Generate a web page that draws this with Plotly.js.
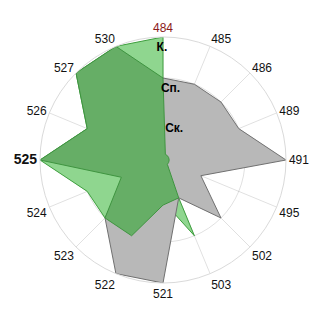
<!DOCTYPE html>
<html>
<head>
<meta charset="utf-8">
<script src="https://cdn.plot.ly/plotly-3.0.1.min.js"></script>
<style>html,body{margin:0;padding:0;background:#fff;}#chart{width:320px;height:320px;}</style>
</head>
<body>
<div id="chart"></div>
<script>
const categories = ['484','485','486','489','491','495','502','503','521','522','523','524','525','526','527','530'];
const angularLabels = ['<span style="color:#8B1A1A">484</span>','485','486','489','491','495','502','503','521','522','523','524','<span style="font-size:14px"><b>525</b></span>','526','527','530'];
const radialVals = [1, 2, 3];
const radialLabels = ['<br><b>Ск.</b>', '<br><b>Сп.</b>', '<br><b>К.</b>'];

const lightSeries  = [3, 0, 0, 0, 0, 0, 0, 2, 1, 2, 2, 2, 3, 2, 3, 3];
const greySeries   = [2, 2, 2, 2, 3, 1, 2, 1, 3, 3, 2, 1, 1, 1, 1, 1];
const mediumSeries = [2, 0.15, 0.15, 0.15, 0.15, 0.15, 0.15, 1, 1.1, 2, 2, 1.1, 3, 2, 3, 3];

function closed(a){ return a.concat([a[0]]); }
const theta = closed(categories);

const traces = [
  {type:'scatterpolar', r: closed(lightSeries), theta: theta, mode:'lines', fill:'toself',
   fillcolor:'#8FD68F', line:{color:'#3E9E3E', width:1}, hoverinfo:'none'},
  {type:'scatterpolar', r: closed(greySeries), theta: theta, mode:'lines', fill:'toself',
   fillcolor:'#B8B8B8', line:{color:'#707070', width:1}, hoverinfo:'none'},
  {type:'scatterpolar', r: closed(mediumSeries), theta: theta, mode:'lines', fill:'toself',
   fillcolor:'#66AE66', line:{color:'#3F9440', width:1}, hoverinfo:'none'}
];

const layout = {
  width: 320, height: 320,
  margin: {l: 40, r: 34, t: 37, b: 37},
  paper_bgcolor: '#fff',
  showlegend: false,
  font: {family: '"Liberation Sans", Arial, sans-serif', size: 12, color: '#111'},
  polar: {
    bgcolor: 'rgba(0,0,0,0)',
    angularaxis: {
      type: 'category', categoryorder: 'array', categoryarray: categories,
      rotation: 90, direction: 'clockwise',
      tickmode: 'array', tickvals: categories, ticktext: angularLabels,
      showline: true, linecolor: '#DADADA', linewidth: 1,
      gridcolor: 'rgba(0,0,0,0.12)', ticks: '', layer: 'above traces',
      tickfont: {size: 12, color: '#111'}
    },
    radialaxis: {
      range: [0, 3], angle: 96, tickangle: 96,
      tickmode: 'array', tickvals: radialVals, ticktext: radialLabels,
      showline: false, ticks: '', gridcolor: 'rgba(0,0,0,0.12)',
      layer: 'above traces',
      tickfont: {size: 12, color: '#000'}
    }
  }
};

Plotly.newPlot('chart', traces, layout, {displayModeBar: false, staticPlot: true});
</script>
</body>
</html>
